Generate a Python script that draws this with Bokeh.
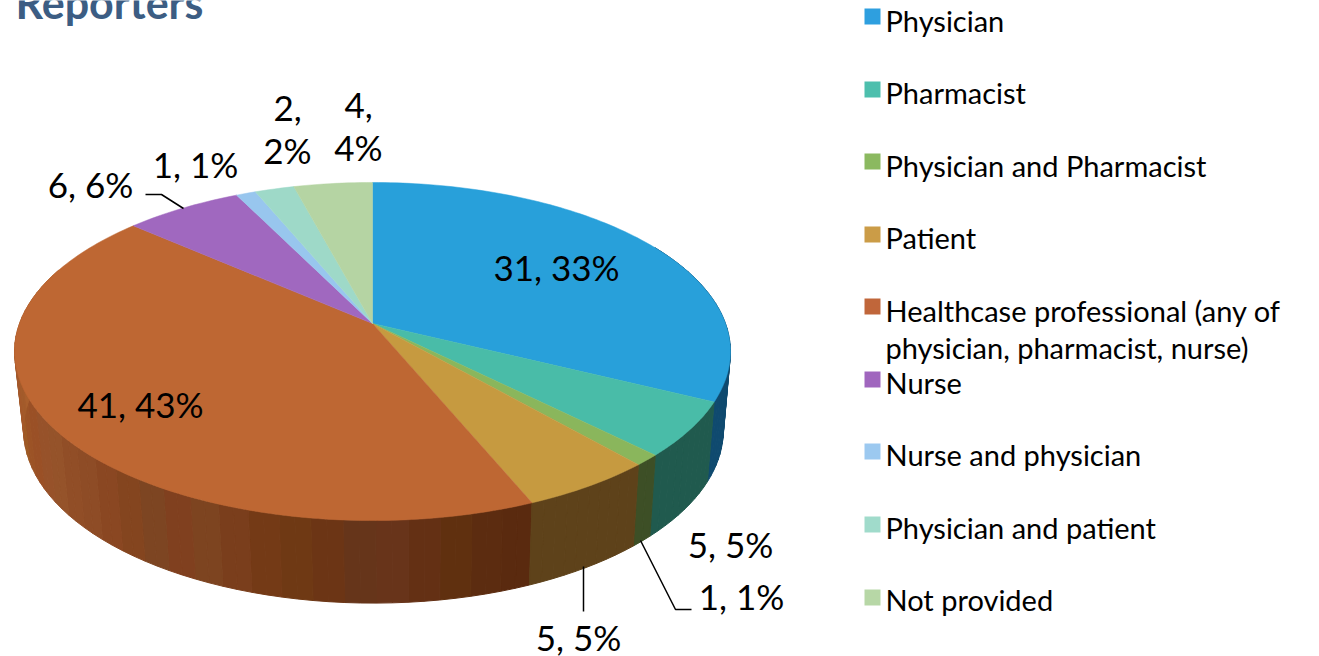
import math
from bokeh.plotting import figure
from bokeh.core.properties import value
from bokeh.embed import file_html
from bokeh.resources import INLINE

categories = ["Physician", "Pharmacist", "Physician and Pharmacist", "Patient",
              "Healthcase professional (any of", "Nurse", "Nurse and physician",
              "Physician and patient", "Not provided"]
counts = [31, 5, 1, 5, 41, 6, 1, 2, 4]
percents = [33, 5, 1, 5, 43, 6, 1, 2, 4]
top_colors = ["#28A0DA", "#49BCA8", "#8AB65C", "#C69A40", "#BE6733", "#A068BF", "#98C6EE", "#9ED9C8", "#B5D4A3"]
swatch_colors = ["#2E9FDF", "#4DBFAD", "#8BB960", "#CB9C47", "#C0663A", "#A066BE", "#9CC9F0", "#A0DBCB", "#B7D7A6"]
side_colors = ["#0F4A6F", "#205A4E", "#3D4F26", "#5E421A"]
orange_bands = ["#5A2A0F", "#5C2C10", "#60300F", "#643014", "#68341A", "#66351A", "#6C3515", "#6F3914",
                "#743A16", "#7A3E1C", "#7D4420", "#80401F", "#7D4522", "#84451F", "#8A4722", "#8E4C26",
                "#914E27", "#95532A", "#97522A", "#9A5026", "#9C5326", "#9E5A24", "#A05828", "#A5592B",
                "#A35B2B", "#A95F2D", "#AC6230", "#A8622E", "#AB6530", "#B0672F"]

FONT = value("Lato")
K = 0.1657
total = sum(counts)


def top_pt(t):
    w = 1 + K * math.cos(t)
    return 372 + 353 * math.sin(t) / w, 323 - 164.4 * math.cos(t) / w


def bot_pt(t):
    w = 1 + K * math.cos(t)
    return 373 + 345 * math.sin(t) / w, 401 - 168.2 * math.cos(t) / w


def arc(a, b, fn, n=None):
    n = n or max(2, int(abs(b - a) / 0.02))
    return [fn(a + (b - a) * i / n) for i in range(n + 1)]


p = figure(width=1319, height=656, x_range=(0, 1319), y_range=(656, 0),
           toolbar_location=None, output_backend="svg", min_border=0,
           margin=(0, 0, 0, 0), outline_line_color=None,
           background_fill_color="white", border_fill_color="white")
p.axis.visible = False
p.grid.visible = False

edges = [0.0]
for c in counts:
    edges.append(edges[-1] + c / total * 2 * math.pi)


def wall(a, b, color):
    n = max(1, int(abs(b - a) / 0.03))
    xs, ys = [], []
    for i in range(n):
        t0 = a + (b - a) * i / n
        t1 = a + (b - a) * (i + 1) / n
        pts = [top_pt(t0), top_pt(t1), bot_pt(t1), bot_pt(t0)]
        xs.append([q[0] for q in pts])
        ys.append([q[1] for q in pts])
    p.patches(xs, ys, fill_color=color, line_color=color, line_width=1)


# side walls: orange first, then the front slices
wa, wb = edges[4], math.radians(290)
for j, col in enumerate(orange_bands):
    wall(wa + (wb - wa) * j / len(orange_bands), wa + (wb - wa) * (j + 1) / len(orange_bands), col)
for i, col in enumerate(side_colors):
    wall(edges[i] if i else math.radians(60), edges[i + 1], col)

# top face
for i, col in enumerate(top_colors):
    pts = [(372, 323)] + arc(edges[i], edges[i + 1], top_pt)
    p.patch([q[0] for q in pts], [q[1] for q in pts], fill_color=col, line_color=col, line_width=0.5)

# leader lines
p.line([145, 161, 183], [194, 194, 208], line_color="black", line_width=1.5)
p.line([640, 675, 691], [540, 609, 609], line_color="black", line_width=1.5)
p.line([583, 583], [566, 611], line_color="black", line_width=1.5)

# title
p.text([15], [17], text=["Reporters"], text_font=FONT, text_font_style="bold",
       text_font_size="43px", text_color="#3C5D83", text_align="left", text_baseline="middle", y_offset=-15)

# data labels
lab = [f"{c}, {q}%" for c, q in zip(counts, percents)]
lab_x = [556, 730, 741, 578, 140, 90, 195]
lab_y = [266, 543, 595, 636, 403, 183, 163]
p.text(lab_x, lab_y, text=lab[:7], text_font=FONT, text_font_size="35px",
       text_color="black", text_align="center", text_baseline="middle")
p.text([287, 287, 358, 358], [108, 149, 105, 146],
       text=[f"{counts[7]},", f"{percents[7]}%", f"{counts[8]},", f"{percents[8]}%"], text_font=FONT,
       text_font_size="35px", text_color="black", text_align="center", text_baseline="middle")

# legend
swatch_y = [16, 89, 161, 234, 306, 379, 451, 524, 597]
p.rect([872] * 9, swatch_y, width=16, height=16, fill_color=swatch_colors, line_color=None)
p.text([885] * 9, [20, 92, 165, 237, 310, 382, 454, 527, 599], text=categories, text_font=FONT,
       text_font_size="29px", text_color="black", text_align="left", text_baseline="middle")
p.text([885], [347], text=["physician, pharmacist, nurse)"], text_font=FONT, text_font_size="29px",
       text_color="black", text_align="left", text_baseline="middle")

open("out.html", "w").write(file_html(p, INLINE))
